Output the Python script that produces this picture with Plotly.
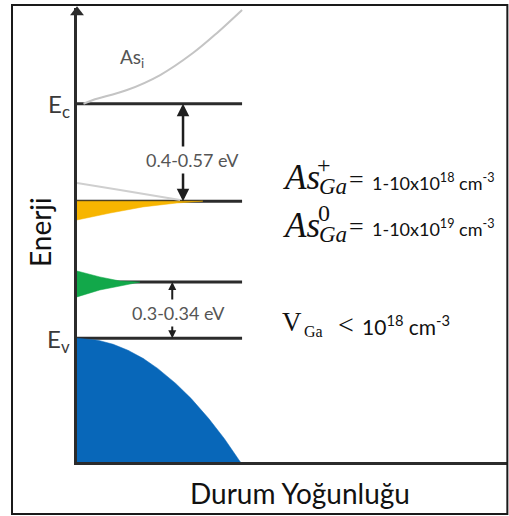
import plotly.graph_objects as go

# Energy levels in the GaAs band gap (eV, measured from the valence band edge)
level_names = ["Ec", "AsGa", "VGa", "Ev"]
level_energy = [1.42, 0.83, 0.34, 0.0]

# Valence band density of states (arbitrary units)
vb_energy = [0.0, -0.012, -0.037, -0.073, -0.122, -0.183, -0.274, -0.366, -0.488, -0.609, -0.75]
vb_dos = [0.0, 0.048, 0.084, 0.118, 0.153, 0.187, 0.229, 0.265, 0.306, 0.342, 0.379]

# Interstitial arsenic (As_i) states above the conduction band edge
asi_energy = [1.42, 1.443, 1.503, 1.594, 1.727, 1.849, 1.988]
asi_dos = [0.015, 0.037, 0.116, 0.193, 0.269, 0.325, 0.383]

# Ionised antisite (As_Ga+) tail
asga_plus_energy = [0.94, 0.898, 0.837]
asga_plus_dos = [0.0, 0.100, 0.239]

# Neutral antisite (As_Ga0) band
asga0_energy = [0.83, 0.83, 0.819, 0.795, 0.758, 0.716]
asga0_dos = [0.0, 0.292, 0.232, 0.153, 0.077, 0.0]

# Gallium vacancy (V_Ga) band
vga_energy = [0.407, 0.371, 0.346, 0.34, 0.316, 0.292, 0.25]
vga_dos = [0.0, 0.053, 0.100, 0.146, 0.100, 0.053, 0.0]

# Activation energies drawn between level pairs
gap_labels = ["0.4-0.57 eV", "0.3-0.34 eV"]
gap_pairs = [(0, 1), (2, 3)]

# Defect concentrations
conc_plus = "1-10x10<sup>18</sup> cm<sup>-3</sup>"
conc_zero = "1-10x10<sup>19</sup> cm<sup>-3</sup>"
conc_vga = "10<sup>18</sup> cm<sup>-3</sup>"

LEVEL_END = 0.383
E_TOP, E_BOTTOM = 2.0, -0.75
SANS = "Lato"
SERIF = "Liberation Serif"

fig = go.Figure()

# Band / level lines
for e in level_energy:
    fig.add_trace(go.Scatter(x=[0, LEVEL_END], y=[e, e], mode="lines",
                             line=dict(color="#2b2b2b", width=3), hoverinfo="skip"))

# As_i curve
fig.add_trace(go.Scatter(x=asi_dos, y=asi_energy, mode="lines", line_shape="spline",
                         line=dict(color="#c4c4c4", width=2), hoverinfo="skip"))

# As_Ga+ tail
fig.add_trace(go.Scatter(x=asga_plus_dos, y=asga_plus_energy, mode="lines", line_shape="spline",
                         line=dict(color="#cfcfcf", width=2), hoverinfo="skip"))

# As_Ga0 band (yellow)
fig.add_trace(go.Scatter(x=asga0_dos, y=asga0_energy, mode="lines", fill="toself",
                         fillcolor="#F7B500", line=dict(color="#F7B500", width=0.5),
                         hoverinfo="skip"))

# V_Ga band (green)
fig.add_trace(go.Scatter(x=vga_dos, y=vga_energy, mode="lines", fill="toself",
                         fillcolor="#12A84A", line=dict(color="#12A84A", width=0.5),
                         hoverinfo="skip"))

# Valence band (blue)
vb_x = vb_dos + [0.0]
vb_y = vb_energy + [vb_energy[-1]]
fig.add_trace(go.Scatter(x=vb_x, y=vb_y, mode="lines", fill="toself",
                         fillcolor="#0867B9", line=dict(color="#0867B9", width=0.5),
                         hoverinfo="skip"))

# Arrow head on top of the energy axis
fig.add_trace(go.Scatter(x=[0], y=[E_TOP - 0.025], mode="markers", cliponaxis=False,
                         marker=dict(symbol="triangle-up", size=12, color="#2b2b2b"),
                         hoverinfo="skip"))

annotations = []

# Double arrows with labels
arrow_cfg = [dict(x=0.246, label_x=0.268, label_y=1.08, width=2.5, size=1.0, font=18),
             dict(x=0.221, label_x=0.236, label_y=0.15, width=2.0, size=0.8, font=18)]
for (i, j), text, cfg in zip(gap_pairs, gap_labels, arrow_cfg):
    mid = cfg["label_y"]
    for tip in (level_energy[i], level_energy[j]):
        annotations.append(dict(x=cfg["x"], y=tip, ax=cfg["x"], ay=mid, xref="x", yref="y",
                                axref="x", ayref="y", text="", showarrow=True,
                                arrowhead=2, arrowsize=cfg["size"], arrowwidth=cfg["width"],
                                arrowcolor="#1e1e1e"))
    annotations.append(dict(x=cfg["label_x"], y=mid, xref="x", yref="y", text=text,
                            showarrow=False, bgcolor="white", borderpad=2,
                            font=dict(family=SANS, size=cfg["font"], color="#555555")))

# Band edge labels
annotations.append(dict(x=-0.012, y=level_energy[0], xref="paper", yref="y",
                        text="E<sub>c</sub>", showarrow=False, xanchor="right",
                        yanchor="middle", yshift=-2,
                        font=dict(family=SANS, size=24, color="#3a3a3a")))
annotations.append(dict(x=-0.012, y=level_energy[3], xref="paper", yref="y",
                        text="E<sub>v</sub>", showarrow=False, xanchor="right",
                        yanchor="middle", yshift=-2,
                        font=dict(family=SANS, size=24, color="#3a3a3a")))

# As_i label
annotations.append(dict(x=0.094, y=1.70, xref="x", yref="y", text="As<sub>i</sub>",
                        showarrow=False, xanchor="left", yanchor="middle",
                        font=dict(family=SANS, size=19, color="#555555")))

# Concentration formulas
def formula_rows(sup, y_as, y_sup, y_ga, y_eq, y_val, value):
    return [
        dict(x=0.474, y=y_as, text="<i>As</i>", xanchor="left",
             font=dict(family=SERIF, size=35, color="#111111")),
        dict(x=0.574, y=y_sup, text=sup, xanchor="center",
             font=dict(family=SERIF, size=24, color="#111111")),
        dict(x=0.556, y=y_ga, text="<i>Ga</i>", xanchor="left",
             font=dict(family=SERIF, size=23, color="#111111")),
        dict(x=0.626, y=y_eq, text="=", xanchor="left",
             font=dict(family=SERIF, size=26, color="#111111")),
        dict(x=0.680, y=y_val, text=value, xanchor="left",
             font=dict(family=SANS, size=18, color="#111111")),
    ]

rows = formula_rows("+", 0.976, 1.049, 0.916, 0.962, 0.946, conc_plus)
rows += formula_rows("0", 0.680, 0.758, 0.631, 0.678, 0.667, conc_zero)
rows += [
    dict(x=0.470, y=0.098, text="V", xanchor="left",
         font=dict(family=SERIF, size=27, color="#111111")),
    dict(x=0.521, y=0.040, text="Ga", xanchor="left",
         font=dict(family=SERIF, size=16, color="#111111")),
    dict(x=0.600, y=0.082, text="&lt;", xanchor="left",
         font=dict(family=SERIF, size=28, color="#111111")),
    dict(x=0.656, y=0.082, text=conc_vga, xanchor="left",
         font=dict(family=SANS, size=21, color="#111111")),
]
for r in rows:
    r.update(xref="x", yref="y", showarrow=False, yanchor="middle")
    annotations.append(r)

# Axis titles
annotations.append(dict(x=0.517, y=-0.068, xref="paper", yref="paper",
                        text="Durum Yoğunluğu", showarrow=False,
                        xanchor="center", yanchor="middle",
                        font=dict(family=SANS, size=28, color="#111111")))
annotations.append(dict(x=-0.0858, y=0.5066, xref="paper", yref="paper",
                        text="Enerji", showarrow=False, textangle=-90,
                        xanchor="center", yanchor="middle",
                        font=dict(family=SANS, size=28, color="#111111")))

fig.update_layout(
    width=509, height=516,
    margin=dict(l=77, r=1, t=8, b=54),
    paper_bgcolor="white", plot_bgcolor="white",
    showlegend=False,
    annotations=annotations,
    shapes=[dict(type="rect", xref="paper", yref="paper",
                 x0=-0.1508, x1=0.9985, y0=-0.1145, y1=1.0066,
                 line=dict(color="#1a1a1a", width=2))],
    xaxis=dict(range=[0, 1], showgrid=False, zeroline=False, showticklabels=False,
               ticks="", showline=True, linecolor="#2b2b2b", linewidth=3, fixedrange=True),
    yaxis=dict(range=[E_BOTTOM, E_TOP], showgrid=False, zeroline=False,
               showticklabels=False, ticks="", showline=True, linecolor="#2b2b2b",
               linewidth=3, fixedrange=True),
)

fig.write_html("out.html", config={"displayModeBar": False})
